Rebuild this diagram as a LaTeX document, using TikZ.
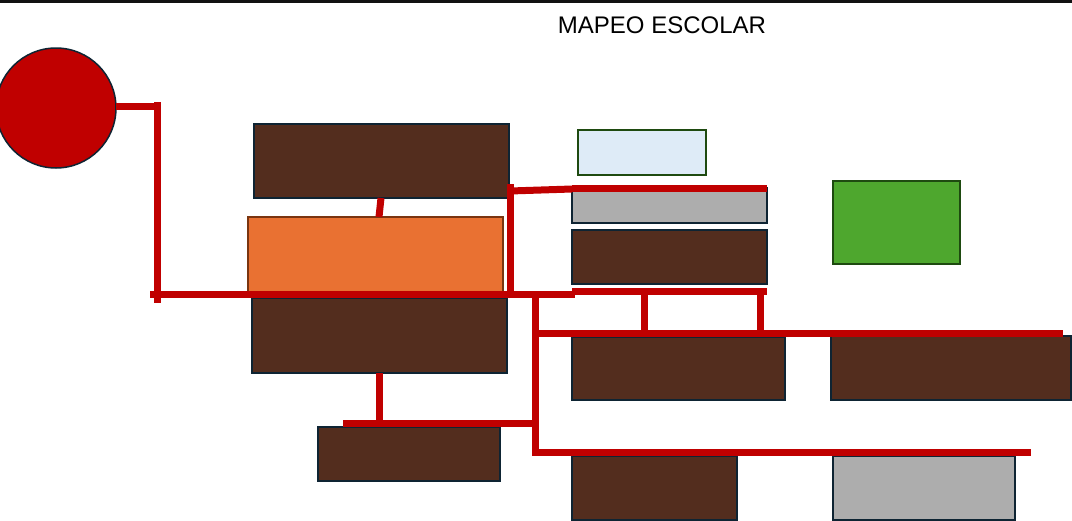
\documentclass[tikz,border=0pt]{standalone}
\usepackage{fontspec}
\setmainfont{Liberation Sans}
\definecolor{wire}{HTML}{C00000}
\definecolor{brownfill}{HTML}{532D1E}
\definecolor{navy}{HTML}{0E2433}
\definecolor{orangefill}{HTML}{E97132}
\definecolor{orangeline}{HTML}{7A3510}
\definecolor{grayfill}{HTML}{ADADAD}
\definecolor{bluefill}{HTML}{DEEBF7}
\definecolor{greenfill}{HTML}{4EA72E}
\definecolor{darkgreen}{HTML}{1E4A10}
\tikzset{
  blk/.style={rectangle, draw=navy, line width=2pt, inner sep=0pt, outer sep=0pt},
  brownbox/.style={blk, fill=brownfill},
  graybox/.style={blk, fill=grayfill},
  wireline/.style={draw=wire, line width=7pt},
}
\begin{document}
\begin{tikzpicture}[x=1pt,y=-1pt]
\useasboundingbox (0,0) rectangle (1072,520);
\draw[line width=3pt, black!93] (0,1.5) -- (1072,1.5);
\node[font=\fontsize{24}{28}\selectfont] (title) at (662,25) {MAPEO ESCOLAR};
% nodes
\node[circle, draw=navy, line width=1.5pt, fill=wire, minimum size=120pt, inner sep=0pt, outer sep=0pt] (circ) at (56,108) {};
\node[brownbox, minimum width=255pt, minimum height=74pt] (A) at (381.5,161) {};
\node[blk, draw=orangeline, fill=orangefill, minimum width=255pt, minimum height=77pt] (O) at (375.5,255.5) {};
\node[brownbox, minimum width=255pt, minimum height=75pt] (B) at (379.5,335.5) {};
\node[blk, draw=darkgreen, fill=bluefill, minimum width=128pt, minimum height=45pt] (LB) at (642,152.5) {};
\node[graybox, minimum width=195pt, minimum height=35pt] (G1) at (669.5,205.5) {};
\node[brownbox, minimum width=195pt, minimum height=54pt] (C) at (669.5,257) {};
\node[blk, draw=darkgreen, fill=greenfill, minimum width=127pt, minimum height=83pt] (GR) at (896.5,222.5) {};
\node[brownbox, minimum width=213pt, minimum height=63pt] (D) at (678.5,368.5) {};
\node[brownbox, minimum width=240pt, minimum height=64pt] (E) at (951,368) {};
\node[brownbox, minimum width=165pt, minimum height=64pt] (F) at (654.5,488) {};
\node[graybox, minimum width=182pt, minimum height=64pt] (G2) at (924,488) {};
\node[brownbox, minimum width=182pt, minimum height=54pt] (H) at (409,454) {};
% junction coordinates
\coordinate (c1) at (157,106);
\coordinate (c1top) at (157,102);
\coordinate (c1bot) at (157,303);
\coordinate (m0) at (150,294);
\coordinate (m1) at (575,294);
\coordinate (v1top) at (510,184);
\coordinate (v1bot) at (510,294);
\coordinate (s0) at (510,191);
\coordinate (s1) at (572,189);
\coordinate (t0) at (572,188);
\coordinate (t1) at (767,188);
\coordinate (u0) at (572,291);
\coordinate (u1) at (767,291);
\coordinate (k1) at (644,291);
\coordinate (k2) at (760,291);
\coordinate (k1b) at (644,333);
\coordinate (k2b) at (760,333);
\coordinate (v2top) at (535,294);
\coordinate (v2bot) at (535,455.5);
\coordinate (h1a) at (535,333);
\coordinate (h1b) at (1063,333);
\coordinate (h2a) at (532,452);
\coordinate (h2b) at (1031,452);
\coordinate (h3a) at (343,423);
\coordinate (h3b) at (538.5,423);
% connectors
\draw[wireline] (circ.east |- c1) -- (c1) ++(0,0);
\draw[wireline] (c1top) -- (c1bot);
\draw[wireline] ([xshift=-0.5pt]A.south) -- ([xshift=3.5pt]O.north);
\draw[wireline] (m0) -- (m1);
\draw[wireline] (v1top) -- (v1bot);
\draw[wireline] (s0) -- (s1);
\draw[wireline] (t0) -- (t1);
\draw[wireline] (u0) -- (u1);
\draw[wireline] (k1) -- (k1b);
\draw[wireline] (k2) -- (k2b);
\draw[wireline] (v2top) -- (v2bot);
\draw[wireline] (h1a) -- (h1b);
\draw[wireline] (h2a) -- (h2b);
\draw[wireline] (B.south) -- (B.south |- h3a);
\draw[wireline] (h3a) -- (h3b);
\end{tikzpicture}
\end{document}
